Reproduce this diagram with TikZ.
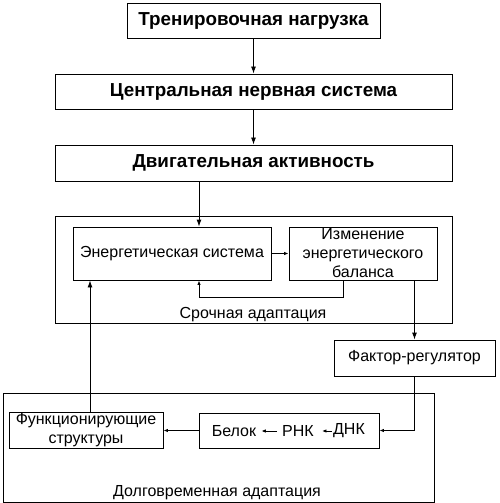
\documentclass[tikz,border=0pt]{standalone}
\usepackage{fontspec}
\setmainfont{Liberation Sans}
\usetikzlibrary{arrows.meta,calc}
\begin{document}
\begin{tikzpicture}[x=1bp,y=-1bp,
  box/.style={draw,line width=0.9bp,inner sep=0,align=center},
  big/.style={box,font=\fontsize{18.8bp}{22bp}\selectfont\bfseries},
  norm/.style={font=\fontsize{16bp}{19bp}\selectfont,align=center},
  arr/.style={line width=0.9bp,-{Latex[length=7bp,width=5bp]}},
  sarr/.style={line width=0.9bp,-{Latex[length=4.5bp,width=3.5bp]}},
  ln/.style={line width=0.9bp}]
\useasboundingbox (0,0) rectangle (500,503);
\node[big,minimum width=253bp,minimum height=35bp] (b1) at (253.5,20.5) {Тренировочная нагрузка};
\node[big,minimum width=397bp,minimum height=35bp] (b2) at (253.5,91.5) {Центральная нервная система};
\node[big,minimum width=397bp,minimum height=36bp] (b3) at (253.5,163) {Двигательная активность};
\node[box,minimum width=397bp,minimum height=107bp] (o1) at (253.5,269.5) {};
\node[box,norm,minimum width=198bp,minimum height=53bp] (en) at (172,253.5) {Энергетическая система};
\node[box,norm,minimum width=148bp,minimum height=53bp] (iz) at (363,253.5) {Изменение\\энергетического\\баланса};
\node[norm] (l1) at (253,314.5) {Срочная адаптация};
\node[box,norm,minimum width=161bp,minimum height=36bp] (fr) at (414.5,358) {Фактор-регулятор};
\node[box,minimum width=431bp,minimum height=109bp] (o2) at (218.5,447.5) {};
\node[norm] (l2) at (217,493) {Долговременная адаптация};
\node[box,norm,minimum width=154bp,minimum height=36bp] (fs) at (86,430) {Функционирующие\\структуры};
\node[box,minimum width=180bp,minimum height=35bp] (bb) at (289,430.5) {};
\node[norm,inner sep=2bp] (bel) at (234,431) {Белок};
\node[norm,inner sep=2bp] (rnk) at (298,431) {РНК};
\node[norm,inner sep=1bp] (dnk) at (349,431) {ДНК};
\coordinate (cA) at (199,0);
\coordinate (cB) at (343,297);
\coordinate (cC) at (199,297);
\coordinate (cD) at (90,0);
\draw[arr] (b1) -- (b2);
\draw[arr] (b2) -- (b3);
\draw[arr] (b3.south -| cA) -- (en.north -| cA);
\draw[sarr] (en.east) -- (iz.west);
\draw[sarr] (iz.south -| cB) -- (cB) -- (cC) -- (en.south -| cC);
\draw[arr] (iz.south -| fr) -- (fr.north);
\draw[sarr] (fr.south) |- (bb.east);
\draw[sarr] (bb.west) -- (bb.west -| fs.east);
\draw[arr] (fs.north -| cD) -- (en.south -| cD);
\draw[sarr,shorten <=3bp,shorten >=3bp] (rnk.west) -- (bel.east);
\draw[sarr,shorten >=6bp] (dnk.west) -- (rnk.east);
\end{tikzpicture}
\end{document}
